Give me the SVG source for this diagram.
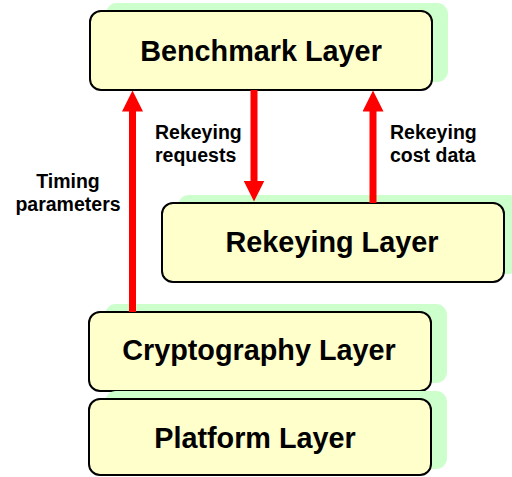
<svg xmlns="http://www.w3.org/2000/svg" width="512" height="477" viewBox="0 0 512 477">
  <style>
    .shadow { fill: #CCFFCC; }
    .box { fill: #FFFFCC; stroke: #000000; stroke-width: 2; }
    .title { font-family: "Liberation Sans", Arial, sans-serif; font-weight: bold; font-size: 28.8px; fill: #000000; text-anchor: middle; }
    .label { font-family: "Liberation Sans", Arial, sans-serif; font-weight: bold; font-size: 19.5px; fill: #000000; }
    .arrow { stroke: #FF0000; stroke-width: 7; fill: none; marker-end: url(#head); }
  </style>
  <defs>
    <marker id="head" markerUnits="userSpaceOnUse" markerWidth="21" markerHeight="21" refX="0.5" refY="10.5" orient="auto" viewBox="0 0 21 21">
      <path d="M0,0 L21,10.5 L0,21 z" fill="#FF0000"/>
    </marker>
  </defs>

  <!-- layers -->
  <g id="benchmark">
    <rect class="shadow" x="106" y="3" width="342" height="79" rx="11"/>
    <rect class="box" x="90" y="11" width="342" height="79" rx="11"/>
    <text class="title" x="261" y="61">Benchmark Layer</text>
  </g>
  <g id="rekeying">
    <rect class="shadow" x="178" y="195" width="342" height="79" rx="11"/>
    <rect class="box" x="162" y="203" width="342" height="79" rx="11"/>
    <text class="title" x="332" y="252">Rekeying Layer</text>
  </g>
  <g id="cryptography">
    <rect class="shadow" x="105" y="304" width="342" height="79" rx="11"/>
    <rect class="box" x="89" y="312" width="342" height="79" rx="11"/>
    <text class="title" x="259" y="360">Cryptography Layer</text>
  </g>
  <g id="platform">
    <rect class="shadow" x="105" y="391" width="342" height="78" rx="11"/>
    <rect class="box" x="89" y="399" width="342" height="76" rx="11"/>
    <text class="title" x="255" y="448">Platform Layer</text>
  </g>

  <!-- connectors -->
  <g id="connectors">
    <line class="arrow" x1="132.5" y1="312" x2="132.5" y2="111"/>
    <line class="arrow" x1="254" y1="90" x2="254" y2="181"/>
    <line class="arrow" x1="373" y1="203" x2="373" y2="111"/>
  </g>

  <!-- connector labels -->
  <g id="labels">
    <text class="label" x="155" y="139">Rekeying<tspan x="155" y="162">requests</tspan></text>
    <text class="label" x="390" y="139">Rekeying<tspan x="390" y="162">cost data</tspan></text>
    <text class="label" x="68" y="188" text-anchor="middle">Timing<tspan x="68" y="211">parameters</tspan></text>
  </g>
</svg>
